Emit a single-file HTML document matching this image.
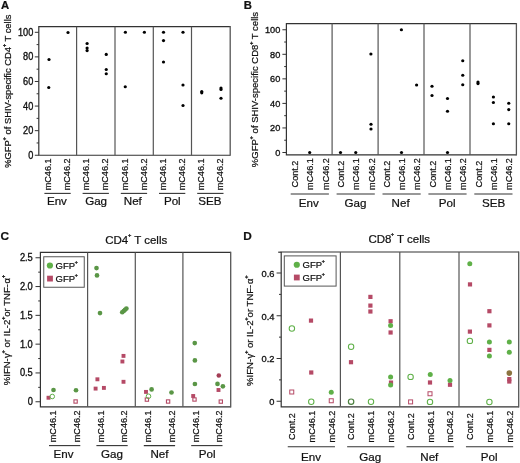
<!DOCTYPE html>
<html><head><meta charset="utf-8"><style>
html,body{margin:0;padding:0;background:#fff;}
body{width:520px;height:463px;overflow:hidden;font-family:"Liberation Sans", sans-serif;}
svg{display:block;filter:blur(0.35px);}
</style></head><body>
<svg width="520" height="463" viewBox="0 0 520 463" font-family='"Liberation Sans", sans-serif' fill="#111">
<style>text{stroke:#111;stroke-width:0.22;}</style>
<rect width="520" height="463" fill="#fff"/>
<text x="1.0" y="9.3" font-size="11.3" text-anchor="start" font-weight="bold" >A</text>
<text x="243.8" y="9.3" font-size="11.3" text-anchor="start" font-weight="bold" >B</text>
<text x="0.4" y="240.1" font-size="11.8" text-anchor="start" font-weight="bold" >C</text>
<text x="243.2" y="239.9" font-size="11.8" text-anchor="start" font-weight="bold" >D</text>
<path d="M230.2,26.7 H38.8 V155.25 H230.2" fill="none" stroke="#333" stroke-width="1.2"/>
<line x1="230.2" y1="26.099999999999998" x2="230.2" y2="155.85" stroke="#555" stroke-width="1.3"/>
<line x1="76.6" y1="26.7" x2="76.6" y2="155.25" stroke="#555" stroke-width="1.2"/>
<line x1="115.0" y1="26.7" x2="115.0" y2="155.25" stroke="#555" stroke-width="1.2"/>
<line x1="153.3" y1="26.7" x2="153.3" y2="155.25" stroke="#555" stroke-width="1.2"/>
<line x1="191.5" y1="26.7" x2="191.5" y2="155.25" stroke="#555" stroke-width="1.2"/>
<line x1="34.8" y1="155.25" x2="38.8" y2="155.25" stroke="#333" stroke-width="1"/>
<text transform="translate(33.3,158.7940909090909) scale(1,1.13)" font-size="9.2" text-anchor="end" font-weight="normal" style="stroke-width:0.32px">0</text>
<line x1="34.8" y1="130.66" x2="38.8" y2="130.66" stroke="#333" stroke-width="1"/>
<text transform="translate(33.3,134.2040909090909) scale(1,1.13)" font-size="9.2" text-anchor="end" font-weight="normal" style="stroke-width:0.32px">20</text>
<line x1="34.8" y1="106.07" x2="38.8" y2="106.07" stroke="#333" stroke-width="1"/>
<text transform="translate(33.3,109.6140909090909) scale(1,1.13)" font-size="9.2" text-anchor="end" font-weight="normal" style="stroke-width:0.32px">40</text>
<line x1="34.8" y1="81.48" x2="38.8" y2="81.48" stroke="#333" stroke-width="1"/>
<text transform="translate(33.3,85.02409090909092) scale(1,1.13)" font-size="9.2" text-anchor="end" font-weight="normal" style="stroke-width:0.32px">60</text>
<line x1="34.8" y1="56.89" x2="38.8" y2="56.89" stroke="#333" stroke-width="1"/>
<text transform="translate(33.3,60.43409090909091) scale(1,1.13)" font-size="9.2" text-anchor="end" font-weight="normal" style="stroke-width:0.32px">80</text>
<line x1="34.8" y1="32.3" x2="38.8" y2="32.3" stroke="#333" stroke-width="1"/>
<text transform="translate(33.3,35.84409090909091) scale(1,1.13)" font-size="9.2" text-anchor="end" font-weight="normal" style="stroke-width:0.32px">100</text>
<line x1="36.599999999999994" y1="142.955" x2="38.8" y2="142.955" stroke="#333" stroke-width="1"/>
<line x1="36.599999999999994" y1="118.36500000000001" x2="38.8" y2="118.36500000000001" stroke="#333" stroke-width="1"/>
<line x1="36.599999999999994" y1="93.775" x2="38.8" y2="93.775" stroke="#333" stroke-width="1"/>
<line x1="36.599999999999994" y1="69.185" x2="38.8" y2="69.185" stroke="#333" stroke-width="1"/>
<line x1="36.599999999999994" y1="44.595" x2="38.8" y2="44.595" stroke="#333" stroke-width="1"/>
<text transform="translate(51.1,174.4) rotate(-90)" font-size="9.1" text-anchor="middle" font-weight="normal" >mC46.1</text>
<text transform="translate(70.20000000000002,174.4) rotate(-90)" font-size="9.1" text-anchor="middle" font-weight="normal" >mC46.2</text>
<text transform="translate(89.30000000000001,174.4) rotate(-90)" font-size="9.1" text-anchor="middle" font-weight="normal" >mC46.1</text>
<text transform="translate(108.4,174.4) rotate(-90)" font-size="9.1" text-anchor="middle" font-weight="normal" >mC46.2</text>
<text transform="translate(127.50000000000001,174.4) rotate(-90)" font-size="9.1" text-anchor="middle" font-weight="normal" >mC46.1</text>
<text transform="translate(146.6,174.4) rotate(-90)" font-size="9.1" text-anchor="middle" font-weight="normal" >mC46.2</text>
<text transform="translate(165.70000000000002,174.4) rotate(-90)" font-size="9.1" text-anchor="middle" font-weight="normal" >mC46.1</text>
<text transform="translate(184.80000000000004,174.4) rotate(-90)" font-size="9.1" text-anchor="middle" font-weight="normal" >mC46.2</text>
<text transform="translate(203.9,174.4) rotate(-90)" font-size="9.1" text-anchor="middle" font-weight="normal" >mC46.1</text>
<text transform="translate(223.00000000000003,174.4) rotate(-90)" font-size="9.1" text-anchor="middle" font-weight="normal" >mC46.2</text>
<line x1="44.400000000000006" y1="193.4" x2="70.70000000000002" y2="193.4" stroke="#333" stroke-width="1.1"/>
<text x="56.9" y="205.3" font-size="11.6" text-anchor="middle" font-weight="normal" >Env</text>
<line x1="82.60000000000001" y1="193.4" x2="108.9" y2="193.4" stroke="#333" stroke-width="1.1"/>
<text x="96.1" y="205.3" font-size="11.6" text-anchor="middle" font-weight="normal" >Gag</text>
<line x1="120.80000000000001" y1="193.4" x2="147.1" y2="193.4" stroke="#333" stroke-width="1.1"/>
<text x="132.8" y="205.3" font-size="11.6" text-anchor="middle" font-weight="normal" >Nef</text>
<line x1="159.0" y1="193.4" x2="185.30000000000004" y2="193.4" stroke="#333" stroke-width="1.1"/>
<text x="172.3" y="205.3" font-size="11.6" text-anchor="middle" font-weight="normal" >Pol</text>
<line x1="197.2" y1="193.4" x2="223.50000000000003" y2="193.4" stroke="#333" stroke-width="1.1"/>
<text x="209.9" y="205.3" font-size="11.6" text-anchor="middle" font-weight="normal" >SEB</text>
<text transform="translate(10.7,91.2) rotate(-90)" font-size="9.4" text-anchor="middle" font-weight="normal" >%GFP<tspan font-size="5.8" font-weight="bold" dx="-0.3" baseline-shift="4.6">+</tspan><tspan dx="0"> </tspan>of SHIV-specific CD4<tspan font-size="5.8" font-weight="bold" dx="-0.3" baseline-shift="4.6">+</tspan><tspan dx="0"> </tspan>T cells</text>
<circle cx="49" cy="59.5" r="1.6" fill="#000"/>
<circle cx="48.75" cy="87.5" r="1.6" fill="#000"/>
<circle cx="68" cy="32.5" r="1.6" fill="#000"/>
<circle cx="87.1" cy="43.5" r="1.6" fill="#000"/>
<circle cx="87.1" cy="48.1" r="1.6" fill="#000"/>
<circle cx="87.1" cy="50.6" r="1.6" fill="#000"/>
<circle cx="106.25" cy="54.4" r="1.6" fill="#000"/>
<circle cx="106.25" cy="69.5" r="1.6" fill="#000"/>
<circle cx="106.25" cy="73.75" r="1.6" fill="#000"/>
<circle cx="125.4" cy="32.25" r="1.6" fill="#000"/>
<circle cx="125.25" cy="86.75" r="1.6" fill="#000"/>
<circle cx="144.4" cy="32.25" r="1.6" fill="#000"/>
<circle cx="163.5" cy="32.25" r="1.6" fill="#000"/>
<circle cx="163.5" cy="40.6" r="1.6" fill="#000"/>
<circle cx="163.5" cy="62" r="1.6" fill="#000"/>
<circle cx="183" cy="32.25" r="1.6" fill="#000"/>
<circle cx="183" cy="85" r="1.6" fill="#000"/>
<circle cx="183" cy="105.5" r="1.6" fill="#000"/>
<circle cx="201.75" cy="91.6" r="1.6" fill="#000"/>
<circle cx="201.75" cy="92.8" r="1.6" fill="#000"/>
<circle cx="221" cy="88" r="1.6" fill="#000"/>
<circle cx="221" cy="89.5" r="1.6" fill="#000"/>
<circle cx="221" cy="98.25" r="1.6" fill="#000"/>
<path d="M516.4,23.6 H286.4 V154.9 H516.4" fill="none" stroke="#333" stroke-width="1.2"/>
<line x1="516.4" y1="23.0" x2="516.4" y2="155.5" stroke="#555" stroke-width="1.3"/>
<line x1="332.1" y1="23.6" x2="332.1" y2="154.9" stroke="#555" stroke-width="1.2"/>
<line x1="378.1" y1="23.6" x2="378.1" y2="154.9" stroke="#555" stroke-width="1.2"/>
<line x1="424.0" y1="23.6" x2="424.0" y2="154.9" stroke="#555" stroke-width="1.2"/>
<line x1="470.0" y1="23.6" x2="470.0" y2="154.9" stroke="#555" stroke-width="1.2"/>
<line x1="282.4" y1="152.5" x2="286.4" y2="152.5" stroke="#333" stroke-width="1"/>
<text transform="translate(280.3,155.88727272727272) scale(1,1.08)" font-size="9.2" text-anchor="end" font-weight="normal" style="stroke-width:0.32px">0</text>
<line x1="282.4" y1="127.95" x2="286.4" y2="127.95" stroke="#333" stroke-width="1"/>
<text transform="translate(280.3,131.33727272727273) scale(1,1.08)" font-size="9.2" text-anchor="end" font-weight="normal" style="stroke-width:0.32px">20</text>
<line x1="282.4" y1="103.4" x2="286.4" y2="103.4" stroke="#333" stroke-width="1"/>
<text transform="translate(280.3,106.78727272727274) scale(1,1.08)" font-size="9.2" text-anchor="end" font-weight="normal" style="stroke-width:0.32px">40</text>
<line x1="282.4" y1="78.85" x2="286.4" y2="78.85" stroke="#333" stroke-width="1"/>
<text transform="translate(280.3,82.23727272727272) scale(1,1.08)" font-size="9.2" text-anchor="end" font-weight="normal" style="stroke-width:0.32px">60</text>
<line x1="282.4" y1="54.3" x2="286.4" y2="54.3" stroke="#333" stroke-width="1"/>
<text transform="translate(280.3,57.68727272727273) scale(1,1.08)" font-size="9.2" text-anchor="end" font-weight="normal" style="stroke-width:0.32px">80</text>
<line x1="282.4" y1="29.75" x2="286.4" y2="29.75" stroke="#333" stroke-width="1"/>
<text transform="translate(280.3,33.13727272727273) scale(1,1.08)" font-size="9.2" text-anchor="end" font-weight="normal" style="stroke-width:0.32px">100</text>
<line x1="284.2" y1="140.225" x2="286.4" y2="140.225" stroke="#333" stroke-width="1"/>
<line x1="284.2" y1="115.675" x2="286.4" y2="115.675" stroke="#333" stroke-width="1"/>
<line x1="284.2" y1="91.125" x2="286.4" y2="91.125" stroke="#333" stroke-width="1"/>
<line x1="284.2" y1="66.575" x2="286.4" y2="66.575" stroke="#333" stroke-width="1"/>
<line x1="284.2" y1="42.02499999999999" x2="286.4" y2="42.02499999999999" stroke="#333" stroke-width="1"/>
<text transform="translate(298.0,174.0) rotate(-90)" font-size="9.1" text-anchor="middle" font-weight="normal" >Cont.2</text>
<text transform="translate(313.3,174.0) rotate(-90)" font-size="9.1" text-anchor="middle" font-weight="normal" >mC46.1</text>
<text transform="translate(328.6,174.0) rotate(-90)" font-size="9.1" text-anchor="middle" font-weight="normal" >mC46.2</text>
<text transform="translate(343.90000000000003,174.0) rotate(-90)" font-size="9.1" text-anchor="middle" font-weight="normal" >Cont.2</text>
<text transform="translate(359.2,174.0) rotate(-90)" font-size="9.1" text-anchor="middle" font-weight="normal" >mC46.1</text>
<text transform="translate(374.5,174.0) rotate(-90)" font-size="9.1" text-anchor="middle" font-weight="normal" >mC46.2</text>
<text transform="translate(389.8,174.0) rotate(-90)" font-size="9.1" text-anchor="middle" font-weight="normal" >Cont.2</text>
<text transform="translate(405.1,174.0) rotate(-90)" font-size="9.1" text-anchor="middle" font-weight="normal" >mC46.1</text>
<text transform="translate(420.40000000000003,174.0) rotate(-90)" font-size="9.1" text-anchor="middle" font-weight="normal" >mC46.2</text>
<text transform="translate(435.7,174.0) rotate(-90)" font-size="9.1" text-anchor="middle" font-weight="normal" >Cont.2</text>
<text transform="translate(451.0,174.0) rotate(-90)" font-size="9.1" text-anchor="middle" font-weight="normal" >mC46.1</text>
<text transform="translate(466.3,174.0) rotate(-90)" font-size="9.1" text-anchor="middle" font-weight="normal" >mC46.2</text>
<text transform="translate(481.6,174.0) rotate(-90)" font-size="9.1" text-anchor="middle" font-weight="normal" >Cont.2</text>
<text transform="translate(496.90000000000003,174.0) rotate(-90)" font-size="9.1" text-anchor="middle" font-weight="normal" >mC46.1</text>
<text transform="translate(512.1999999999999,174.0) rotate(-90)" font-size="9.1" text-anchor="middle" font-weight="normal" >mC46.2</text>
<line x1="290.7" y1="194.0" x2="328.90000000000003" y2="194.0" stroke="#333" stroke-width="1.1"/>
<text x="308.8" y="206.8" font-size="11.6" text-anchor="middle" font-weight="normal" >Env</text>
<line x1="336.6" y1="194.0" x2="374.8" y2="194.0" stroke="#333" stroke-width="1.1"/>
<text x="355.5" y="206.8" font-size="11.6" text-anchor="middle" font-weight="normal" >Gag</text>
<line x1="382.5" y1="194.0" x2="420.70000000000005" y2="194.0" stroke="#333" stroke-width="1.1"/>
<text x="400.6" y="206.8" font-size="11.6" text-anchor="middle" font-weight="normal" >Nef</text>
<line x1="428.4" y1="194.0" x2="466.6" y2="194.0" stroke="#333" stroke-width="1.1"/>
<text x="447.2" y="206.8" font-size="11.6" text-anchor="middle" font-weight="normal" >Pol</text>
<line x1="474.3" y1="194.0" x2="512.5" y2="194.0" stroke="#333" stroke-width="1.1"/>
<text x="493.6" y="206.8" font-size="11.6" text-anchor="middle" font-weight="normal" >SEB</text>
<text transform="translate(258.4,89.5) rotate(-90)" font-size="9.5" text-anchor="middle" font-weight="normal" >%GFP<tspan font-size="5.8" font-weight="bold" dx="-0.3" baseline-shift="4.6">+</tspan><tspan dx="0"> </tspan>of SHIV-specific CD8<tspan font-size="5.8" font-weight="bold" dx="-0.3" baseline-shift="4.6">+</tspan><tspan dx="0"> </tspan>T cells</text>
<circle cx="309.7" cy="152.5" r="1.6" fill="#000"/>
<circle cx="340.5" cy="152.5" r="1.6" fill="#000"/>
<circle cx="355.75" cy="152.5" r="1.6" fill="#000"/>
<circle cx="370.9" cy="54" r="1.6" fill="#000"/>
<circle cx="371" cy="124.25" r="1.6" fill="#000"/>
<circle cx="371" cy="129" r="1.6" fill="#000"/>
<circle cx="401.4" cy="29.75" r="1.6" fill="#000"/>
<circle cx="401.5" cy="152.5" r="1.6" fill="#000"/>
<circle cx="416.6" cy="85" r="1.6" fill="#000"/>
<circle cx="432" cy="86.25" r="1.6" fill="#000"/>
<circle cx="432" cy="95.5" r="1.6" fill="#000"/>
<circle cx="447.5" cy="98.5" r="1.6" fill="#000"/>
<circle cx="447.5" cy="111.25" r="1.6" fill="#000"/>
<circle cx="447.5" cy="152.5" r="1.6" fill="#000"/>
<circle cx="462.75" cy="60.75" r="1.6" fill="#000"/>
<circle cx="462.75" cy="75.25" r="1.6" fill="#000"/>
<circle cx="462.75" cy="84.75" r="1.6" fill="#000"/>
<circle cx="478" cy="82" r="1.6" fill="#000"/>
<circle cx="478" cy="83.6" r="1.6" fill="#000"/>
<circle cx="493.4" cy="97" r="1.6" fill="#000"/>
<circle cx="493.4" cy="102.5" r="1.6" fill="#000"/>
<circle cx="493.4" cy="123.75" r="1.6" fill="#000"/>
<circle cx="508.75" cy="103.25" r="1.6" fill="#000"/>
<circle cx="508.75" cy="109.6" r="1.6" fill="#000"/>
<circle cx="508.75" cy="123.75" r="1.6" fill="#000"/>
<path d="M230.7,252.4 H40.4 V406.8 H230.7" fill="none" stroke="#333" stroke-width="1.2"/>
<line x1="230.7" y1="251.8" x2="230.7" y2="407.40000000000003" stroke="#555" stroke-width="1.3"/>
<line x1="87.6" y1="252.4" x2="87.6" y2="406.8" stroke="#555" stroke-width="1.2"/>
<line x1="135.3" y1="252.4" x2="135.3" y2="406.8" stroke="#555" stroke-width="1.2"/>
<line x1="182.9" y1="252.4" x2="182.9" y2="406.8" stroke="#555" stroke-width="1.2"/>
<line x1="35.5" y1="401.75" x2="40.4" y2="401.75" stroke="#333" stroke-width="1"/>
<text transform="translate(32.8,405.26272727272726) scale(1,1.12)" font-size="9.3" text-anchor="end" font-weight="normal" style="stroke-width:0.32px">0</text>
<line x1="35.5" y1="372.95" x2="40.4" y2="372.95" stroke="#333" stroke-width="1"/>
<text transform="translate(32.8,376.46272727272725) scale(1,1.12)" font-size="9.3" text-anchor="end" font-weight="normal" style="stroke-width:0.32px">0.5</text>
<line x1="35.5" y1="344.15" x2="40.4" y2="344.15" stroke="#333" stroke-width="1"/>
<text transform="translate(32.8,347.66272727272724) scale(1,1.12)" font-size="9.3" text-anchor="end" font-weight="normal" style="stroke-width:0.32px">1.0</text>
<line x1="35.5" y1="315.35" x2="40.4" y2="315.35" stroke="#333" stroke-width="1"/>
<text transform="translate(32.8,318.8627272727273) scale(1,1.12)" font-size="9.3" text-anchor="end" font-weight="normal" style="stroke-width:0.32px">1.5</text>
<line x1="35.5" y1="286.55" x2="40.4" y2="286.55" stroke="#333" stroke-width="1"/>
<text transform="translate(32.8,290.0627272727273) scale(1,1.12)" font-size="9.3" text-anchor="end" font-weight="normal" style="stroke-width:0.32px">2.0</text>
<line x1="35.5" y1="257.75" x2="40.4" y2="257.75" stroke="#333" stroke-width="1"/>
<text transform="translate(32.8,261.26272727272726) scale(1,1.12)" font-size="9.3" text-anchor="end" font-weight="normal" style="stroke-width:0.32px">2.5</text>
<line x1="38.199999999999996" y1="387.35" x2="40.4" y2="387.35" stroke="#333" stroke-width="1"/>
<line x1="38.199999999999996" y1="358.55" x2="40.4" y2="358.55" stroke="#333" stroke-width="1"/>
<line x1="38.199999999999996" y1="329.75" x2="40.4" y2="329.75" stroke="#333" stroke-width="1"/>
<line x1="38.199999999999996" y1="300.95" x2="40.4" y2="300.95" stroke="#333" stroke-width="1"/>
<line x1="38.199999999999996" y1="272.15" x2="40.4" y2="272.15" stroke="#333" stroke-width="1"/>
<text transform="translate(56.3,426.3) rotate(-90)" font-size="9.1" text-anchor="middle" font-weight="normal" >mC46.1</text>
<text transform="translate(80.0,426.3) rotate(-90)" font-size="9.1" text-anchor="middle" font-weight="normal" >mC46.2</text>
<text transform="translate(103.7,426.3) rotate(-90)" font-size="9.1" text-anchor="middle" font-weight="normal" >mC46.1</text>
<text transform="translate(127.39999999999999,426.3) rotate(-90)" font-size="9.1" text-anchor="middle" font-weight="normal" >mC46.2</text>
<text transform="translate(151.10000000000002,426.3) rotate(-90)" font-size="9.1" text-anchor="middle" font-weight="normal" >mC46.1</text>
<text transform="translate(174.8,426.3) rotate(-90)" font-size="9.1" text-anchor="middle" font-weight="normal" >mC46.2</text>
<text transform="translate(198.5,426.3) rotate(-90)" font-size="9.1" text-anchor="middle" font-weight="normal" >mC46.1</text>
<text transform="translate(222.20000000000002,426.3) rotate(-90)" font-size="9.1" text-anchor="middle" font-weight="normal" >mC46.2</text>
<line x1="49.0" y1="445.6" x2="80.3" y2="445.6" stroke="#333" stroke-width="1.1"/>
<text x="63.6" y="457.8" font-size="11.6" text-anchor="middle" font-weight="normal" >Env</text>
<line x1="96.4" y1="445.6" x2="127.69999999999999" y2="445.6" stroke="#333" stroke-width="1.1"/>
<text x="111.9" y="457.8" font-size="11.6" text-anchor="middle" font-weight="normal" >Gag</text>
<line x1="143.8" y1="445.6" x2="175.1" y2="445.6" stroke="#333" stroke-width="1.1"/>
<text x="159.4" y="457.8" font-size="11.6" text-anchor="middle" font-weight="normal" >Nef</text>
<line x1="191.2" y1="445.6" x2="222.5" y2="445.6" stroke="#333" stroke-width="1.1"/>
<text x="207.1" y="457.8" font-size="11.6" text-anchor="middle" font-weight="normal" >Pol</text>
<text transform="translate(10.0,330) rotate(-90)" font-size="9.55" text-anchor="middle" font-weight="normal" >%IFN-<tspan dx="0.3">γ</tspan><tspan font-size="5.8" font-weight="bold" dx="-0.3" baseline-shift="5.5">+</tspan><tspan dx="0"> </tspan>or IL-2<tspan font-size="5.8" font-weight="bold" dx="-0.3" baseline-shift="5.5">+</tspan>or TNF-<tspan dx="0.6">α</tspan><tspan font-size="5.8" font-weight="bold" dx="-0.3" baseline-shift="5.5">+</tspan></text>
<text x="105.2" y="243.8" font-size="11.5" text-anchor="start" font-weight="normal" >CD4<tspan font-size="5.6" font-weight="bold" dx="-0.3" baseline-shift="6.8">+</tspan><tspan dx="0"> </tspan>T cells</text>
<rect x="43.75" y="256.75" width="40.5" height="30.5" fill="none" stroke="#555" stroke-width="1"/>
<circle cx="49.9" cy="265.5" r="3.1" fill="#5fb048"/>
<rect x="47.1" y="275.70000000000005" width="5.8" height="5.8" fill="#b54a66"/>
<text x="55.6" y="268.8" font-size="9.5" text-anchor="start" font-weight="normal" >GFP<tspan font-size="5.2" font-weight="bold" dx="-0.3" baseline-shift="5.4">+</tspan></text>
<text x="55.6" y="281.6" font-size="9.5" text-anchor="start" font-weight="normal" >GFP<tspan font-size="5.2" font-weight="bold" dx="-0.3" baseline-shift="5.4">+</tspan></text>
<rect x="73.94999999999999" y="399.85" width="3.3000000000000003" height="3.3000000000000003" fill="none" stroke="#b54a66" stroke-width="1.1"/>
<rect x="145.25000000000003" y="397.95000000000005" width="3.3000000000000003" height="3.3000000000000003" fill="none" stroke="#b54a66" stroke-width="1.1"/>
<rect x="166.45000000000002" y="399.85" width="3.3000000000000003" height="3.3000000000000003" fill="none" stroke="#b54a66" stroke-width="1.1"/>
<rect x="192.85000000000002" y="397.85" width="3.3000000000000003" height="3.3000000000000003" fill="none" stroke="#b54a66" stroke-width="1.1"/>
<rect x="219.15000000000003" y="399.95000000000005" width="3.3000000000000003" height="3.3000000000000003" fill="none" stroke="#b54a66" stroke-width="1.1"/>
<rect x="46.55" y="395.8" width="3.9" height="3.9" fill="#b54a66"/>
<rect x="95.45" y="377.35" width="3.9" height="3.9" fill="#b54a66"/>
<rect x="93.64999999999999" y="386.65000000000003" width="3.9" height="3.9" fill="#b54a66"/>
<rect x="101.95" y="385.95" width="3.9" height="3.9" fill="#b54a66"/>
<rect x="121.55" y="353.95" width="3.9" height="3.9" fill="#b54a66"/>
<rect x="120.45" y="359.55" width="3.9" height="3.9" fill="#b54a66"/>
<rect x="121.55" y="379.85" width="3.9" height="3.9" fill="#b54a66"/>
<rect x="144.05" y="389.95" width="3.9" height="3.9" fill="#b54a66"/>
<rect x="191.25" y="394.05" width="3.9" height="3.9" fill="#b54a66"/>
<rect x="216.55" y="388.05" width="3.9" height="3.9" fill="#b54a66"/>
<circle cx="218.8" cy="375.5" r="2.3" fill="#a33d55"/>
<circle cx="52.25" cy="396.5" r="2.3" fill="none" stroke="#5fb048" stroke-width="1.0"/>
<circle cx="148.5" cy="396.25" r="2.3" fill="none" stroke="#5fb048" stroke-width="1.0"/>
<circle cx="53.5" cy="390" r="2.35" fill="#5a9646"/>
<circle cx="76" cy="390.25" r="2.35" fill="#5a9646"/>
<circle cx="96.5" cy="268.1" r="2.35" fill="#5a9646"/>
<circle cx="97" cy="275.4" r="2.35" fill="#5a9646"/>
<circle cx="100" cy="313.1" r="2.35" fill="#5a9646"/>
<circle cx="122.25" cy="312.25" r="2.35" fill="#5a9646"/>
<circle cx="123.75" cy="311" r="2.35" fill="#5a9646"/>
<circle cx="125" cy="309.75" r="2.35" fill="#5a9646"/>
<circle cx="126.4" cy="308.6" r="2.35" fill="#5a9646"/>
<circle cx="151.6" cy="389.4" r="2.35" fill="#5a9646"/>
<circle cx="171.5" cy="392.5" r="2.35" fill="#5a9646"/>
<circle cx="194.75" cy="343.1" r="2.35" fill="#5a9646"/>
<circle cx="194.9" cy="360.4" r="2.35" fill="#5a9646"/>
<circle cx="194.9" cy="384" r="2.35" fill="#5a9646"/>
<circle cx="217.5" cy="383.9" r="2.35" fill="#5a9646"/>
<circle cx="222.9" cy="386.3" r="2.35" fill="#5a9646"/>
<path d="M518.7,252.0 H281.2 V406.8 H518.7" fill="none" stroke="#333" stroke-width="1.2"/>
<line x1="518.7" y1="251.4" x2="518.7" y2="407.40000000000003" stroke="#555" stroke-width="1.3"/>
<line x1="340.4" y1="252.0" x2="340.4" y2="406.8" stroke="#555" stroke-width="1.2"/>
<line x1="399.8" y1="252.0" x2="399.8" y2="406.8" stroke="#555" stroke-width="1.2"/>
<line x1="459.0" y1="252.0" x2="459.0" y2="406.8" stroke="#555" stroke-width="1.2"/>
<line x1="276.59999999999997" y1="401.25" x2="281.2" y2="401.25" stroke="#333" stroke-width="1"/>
<text transform="translate(274.4,405.0863636363636) scale(1,1.0)" font-size="9.3" text-anchor="end" font-weight="normal" style="stroke-width:0.32px">0</text>
<line x1="276.59999999999997" y1="358.5" x2="281.2" y2="358.5" stroke="#333" stroke-width="1"/>
<text transform="translate(274.4,362.3363636363636) scale(1,1.0)" font-size="9.3" text-anchor="end" font-weight="normal" style="stroke-width:0.32px">0.2</text>
<line x1="276.59999999999997" y1="315.75" x2="281.2" y2="315.75" stroke="#333" stroke-width="1"/>
<text transform="translate(274.4,319.5863636363636) scale(1,1.0)" font-size="9.3" text-anchor="end" font-weight="normal" style="stroke-width:0.32px">0.4</text>
<line x1="276.59999999999997" y1="273.0" x2="281.2" y2="273.0" stroke="#333" stroke-width="1"/>
<text transform="translate(274.4,276.8363636363636) scale(1,1.0)" font-size="9.3" text-anchor="end" font-weight="normal" style="stroke-width:0.32px">0.6</text>
<line x1="279.0" y1="379.875" x2="281.2" y2="379.875" stroke="#333" stroke-width="1"/>
<line x1="279.0" y1="337.125" x2="281.2" y2="337.125" stroke="#333" stroke-width="1"/>
<line x1="279.0" y1="294.375" x2="281.2" y2="294.375" stroke="#333" stroke-width="1"/>
<text transform="translate(295.05,426.5) rotate(-90)" font-size="9.1" text-anchor="middle" font-weight="normal" >Cont.2</text>
<text transform="translate(314.85,426.5) rotate(-90)" font-size="9.1" text-anchor="middle" font-weight="normal" >mC46.1</text>
<text transform="translate(334.65000000000003,426.5) rotate(-90)" font-size="9.1" text-anchor="middle" font-weight="normal" >mC46.2</text>
<text transform="translate(354.45,426.5) rotate(-90)" font-size="9.1" text-anchor="middle" font-weight="normal" >Cont.2</text>
<text transform="translate(374.25,426.5) rotate(-90)" font-size="9.1" text-anchor="middle" font-weight="normal" >mC46.1</text>
<text transform="translate(394.05,426.5) rotate(-90)" font-size="9.1" text-anchor="middle" font-weight="normal" >mC46.2</text>
<text transform="translate(413.85,426.5) rotate(-90)" font-size="9.1" text-anchor="middle" font-weight="normal" >Cont.2</text>
<text transform="translate(433.65000000000003,426.5) rotate(-90)" font-size="9.1" text-anchor="middle" font-weight="normal" >mC46.1</text>
<text transform="translate(453.45,426.5) rotate(-90)" font-size="9.1" text-anchor="middle" font-weight="normal" >mC46.2</text>
<text transform="translate(473.25000000000006,426.5) rotate(-90)" font-size="9.1" text-anchor="middle" font-weight="normal" >Cont.2</text>
<text transform="translate(493.05,426.5) rotate(-90)" font-size="9.1" text-anchor="middle" font-weight="normal" >mC46.1</text>
<text transform="translate(512.85,426.5) rotate(-90)" font-size="9.1" text-anchor="middle" font-weight="normal" >mC46.2</text>
<line x1="287.75" y1="446.7" x2="334.95000000000005" y2="446.7" stroke="#333" stroke-width="1.1"/>
<text x="311.0" y="460.5" font-size="11.6" text-anchor="middle" font-weight="normal" >Env</text>
<line x1="347.15" y1="446.7" x2="394.35" y2="446.7" stroke="#333" stroke-width="1.1"/>
<text x="370.3" y="460.5" font-size="11.6" text-anchor="middle" font-weight="normal" >Gag</text>
<line x1="406.55" y1="446.7" x2="453.75" y2="446.7" stroke="#333" stroke-width="1.1"/>
<text x="429.3" y="460.5" font-size="11.6" text-anchor="middle" font-weight="normal" >Nef</text>
<line x1="465.95000000000005" y1="446.7" x2="513.15" y2="446.7" stroke="#333" stroke-width="1.1"/>
<text x="489.2" y="460.5" font-size="11.6" text-anchor="middle" font-weight="normal" >Pol</text>
<text transform="translate(252.5,330.7) rotate(-90)" font-size="9.55" text-anchor="middle" font-weight="normal" >%IFN-<tspan dx="0.3">γ</tspan><tspan font-size="5.8" font-weight="bold" dx="-0.3" baseline-shift="5.5">+</tspan><tspan dx="0"> </tspan>or IL-2<tspan font-size="5.8" font-weight="bold" dx="-0.3" baseline-shift="5.5">+</tspan>or TNF-<tspan dx="0.6">α</tspan><tspan font-size="5.8" font-weight="bold" dx="-0.3" baseline-shift="5.5">+</tspan></text>
<line x1="278.2" y1="252.2" x2="281.2" y2="252.2" stroke="#333" stroke-width="1.2"/>
<text x="368.4" y="243.3" font-size="11.5" text-anchor="start" font-weight="normal" >CD8<tspan font-size="5.6" font-weight="bold" dx="-0.6" baseline-shift="6.6">+</tspan><tspan dx="0"> </tspan>T cells</text>
<rect x="284.3" y="255.9" width="51.8" height="30.2" fill="none" stroke="#555" stroke-width="1"/>
<circle cx="296.8" cy="264.75" r="3.1" fill="#5fb048"/>
<rect x="293.90000000000003" y="274.6" width="5.8" height="5.8" fill="#b54a66"/>
<text x="302.6" y="267.8" font-size="9.5" text-anchor="start" font-weight="normal" >GFP<tspan font-size="5.2" font-weight="bold" dx="-0.3" baseline-shift="5.4">+</tspan></text>
<text x="302.6" y="280.7" font-size="9.5" text-anchor="start" font-weight="normal" >GFP<tspan font-size="5.2" font-weight="bold" dx="-0.3" baseline-shift="5.4">+</tspan></text>
<rect x="289.75" y="390.0" width="4.0" height="4.0" fill="none" stroke="#b54a66" stroke-width="1.0"/>
<rect x="329.25" y="398.75" width="4.0" height="4.0" fill="none" stroke="#b54a66" stroke-width="1.0"/>
<rect x="408.6" y="399.9" width="4.0" height="4.0" fill="none" stroke="#b54a66" stroke-width="1.0"/>
<rect x="428.0" y="391.75" width="4.0" height="4.0" fill="none" stroke="#b54a66" stroke-width="1.0"/>
<rect x="308.9" y="318.5" width="4.2" height="4.2" fill="#b54a66"/>
<rect x="309.15" y="370.4" width="4.2" height="4.2" fill="#b54a66"/>
<rect x="348.9" y="360.09999999999997" width="4.2" height="4.2" fill="#b54a66"/>
<rect x="368.29999999999995" y="294.79999999999995" width="4.2" height="4.2" fill="#b54a66"/>
<rect x="368.29999999999995" y="303.5" width="4.2" height="4.2" fill="#b54a66"/>
<rect x="368.29999999999995" y="309.4" width="4.2" height="4.2" fill="#b54a66"/>
<rect x="388.5" y="319.15" width="4.2" height="4.2" fill="#b54a66"/>
<rect x="388.5" y="330.4" width="4.2" height="4.2" fill="#b54a66"/>
<rect x="388.9" y="380.5" width="4.2" height="4.2" fill="#b54a66"/>
<rect x="427.9" y="380.4" width="4.2" height="4.2" fill="#b54a66"/>
<rect x="447.9" y="382.65" width="4.2" height="4.2" fill="#b54a66"/>
<rect x="467.9" y="282.29999999999995" width="4.2" height="4.2" fill="#b54a66"/>
<rect x="467.79999999999995" y="329.5" width="4.2" height="4.2" fill="#b54a66"/>
<rect x="487.29999999999995" y="309.09999999999997" width="4.2" height="4.2" fill="#b54a66"/>
<rect x="487.29999999999995" y="323.29999999999995" width="4.2" height="4.2" fill="#b54a66"/>
<rect x="487.29999999999995" y="347.79999999999995" width="4.2" height="4.2" fill="#b54a66"/>
<rect x="507.2" y="377.0" width="4.2" height="4.2" fill="#b54a66"/>
<rect x="507.2" y="379.4" width="4.2" height="4.2" fill="#b54a66"/>
<circle cx="291.9" cy="328.5" r="2.7" fill="none" stroke="#5fb048" stroke-width="1.05"/>
<circle cx="311.25" cy="401.75" r="2.7" fill="none" stroke="#5fb048" stroke-width="1.05"/>
<circle cx="351.1" cy="346.8" r="2.7" fill="none" stroke="#5fb048" stroke-width="1.05"/>
<circle cx="371" cy="401.7" r="2.7" fill="none" stroke="#5fb048" stroke-width="1.05"/>
<circle cx="410.6" cy="376.9" r="2.7" fill="none" stroke="#5fb048" stroke-width="1.05"/>
<circle cx="430" cy="401.9" r="2.7" fill="none" stroke="#5fb048" stroke-width="1.05"/>
<circle cx="469.9" cy="340.9" r="2.7" fill="none" stroke="#5fb048" stroke-width="1.05"/>
<circle cx="489.4" cy="402.0" r="2.7" fill="none" stroke="#5fb048" stroke-width="1.05"/>
<circle cx="351.1" cy="401.7" r="2.7" fill="none" stroke="#4d8040" stroke-width="1.2"/>
<circle cx="331.25" cy="392.25" r="2.5" fill="#5fb048"/>
<circle cx="390.6" cy="325.6" r="2.5" fill="#5fb048"/>
<circle cx="390.6" cy="377" r="2.5" fill="#5fb048"/>
<circle cx="390.6" cy="385" r="2.5" fill="#5fb048"/>
<circle cx="430.25" cy="374.6" r="2.5" fill="#5fb048"/>
<circle cx="450" cy="380.4" r="2.5" fill="#5fb048"/>
<circle cx="469.8" cy="263.75" r="2.5" fill="#5fb048"/>
<circle cx="489.4" cy="342" r="2.5" fill="#5fb048"/>
<circle cx="489.4" cy="356" r="2.5" fill="#5fb048"/>
<circle cx="509.3" cy="342" r="2.5" fill="#5fb048"/>
<circle cx="509.3" cy="352.3" r="2.5" fill="#5fb048"/>
<circle cx="509.3" cy="373.1" r="2.8" fill="#8c7440"/>
</svg>
</body></html>
